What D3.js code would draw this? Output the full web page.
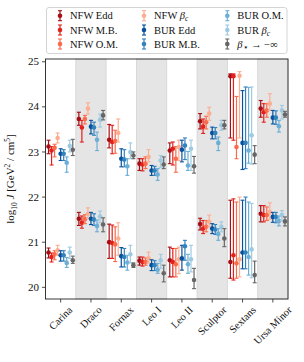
<!DOCTYPE html>
<html><head><meta charset="utf-8">
<script src="https://cdn.jsdelivr.net/npm/d3@7"></script>
<style>body{margin:0;background:#fff}svg{display:block}text{font-family:"Liberation Serif","Times New Roman",serif}</style>
</head><body><svg id="c" width="304" height="362"></svg>
<script>
const categories = ["Carina","Draco","Fornax","Leo I","Leo II","Sculptor","Sextans","Ursa Minor"];
const shaded = ["Draco","Leo I","Sculptor","Ursa Minor"];
const yTicks = [20,21,22,23,24,25];
const seriesNames = ["NFW Edd","NFW M.B.","NFW O.M.","NFW βc","BUR Edd","BUR M.B.","BUR O.M.","BUR βc","β⋆ → −∞"];
const seriesColors = ["#a50f15","#e3211c","#fb6a4a","#fcae91","#08519c","#3182bd","#6baed6","#9ecae1","#666666"];
// [value, low, high] per category — upper set
const nfwEddUp = [[23.11,22.95,23.25],[23.72,23.58,23.87],[23.26,23.08,23.60],[22.73,22.58,22.84],[23.02,22.73,23.19],[23.67,23.50,23.84],[24.67,23.30,24.72],[23.95,23.76,24.13]];
const nfwMBUp  = [[23.02,22.70,23.11],[23.53,23.21,23.69],[23.21,22.95,23.58],[22.71,22.57,22.84],[23.06,22.70,23.21],[23.55,23.40,23.72],[24.67,23.25,24.72],[23.87,23.65,24.06]];
const nfwOMUp  = [[23.08,22.88,23.16],[23.72,23.61,23.80],[23.23,22.96,23.47],[22.73,22.62,22.88],[22.84,22.54,23.11],[23.65,23.50,23.78],[23.10,22.84,24.22],[23.91,23.76,24.06]];
const nfwBcUp  = [[23.30,23.19,23.41],[23.95,23.83,24.08],[23.41,23.21,23.72],[22.88,22.77,23.04],[23.10,22.80,23.25],[23.84,23.69,23.98],[24.68,23.30,24.77],[24.06,23.91,24.28]];
const burEddUp = [[22.95,22.80,23.06],[23.55,23.39,23.69],[22.84,22.66,23.06],[22.58,22.47,22.69],[23.04,22.77,23.25],[23.41,23.28,23.54],[23.19,22.60,24.35],[23.75,23.61,23.91]];
const burMBUp  = [[22.95,22.80,23.04],[23.53,23.36,23.65],[22.82,22.66,23.04],[22.58,22.47,22.67],[23.13,22.82,23.30],[23.41,23.28,23.53],[23.19,22.62,24.43],[23.75,23.60,23.90]];
const burOMUp  = [[22.75,22.54,22.88],[23.26,23.02,23.43],[22.67,22.47,22.84],[22.49,22.36,22.62],[22.69,22.58,23.00],[23.19,23.02,23.32],[23.02,22.74,24.42],[23.56,23.43,23.69]];
const burBcUp  = [[23.12,22.99,23.25],[23.70,23.54,23.83],[22.99,22.84,23.19],[22.80,22.65,22.91],[23.06,22.58,23.25],[23.58,23.47,23.69],[23.36,22.72,24.43],[23.91,23.72,24.02]];
const grayUp   = [[23.04,22.91,23.27],[23.80,23.70,23.91],[22.91,22.84,22.99],[22.71,22.62,22.88],[22.67,22.52,22.89],[23.58,23.50,23.69],[22.93,22.73,23.13],[23.82,23.76,23.89]];
// lower set
const nfwEddLo = [[20.76,20.64,20.86],[21.51,21.36,21.65],[20.99,20.63,21.39],[20.58,20.48,20.66],[20.59,20.22,20.88],[21.39,21.26,21.52],[20.55,20.19,21.92],[21.62,21.44,21.80]];
const nfwMBLo  = [[20.66,20.55,20.75],[21.42,21.30,21.57],[20.97,20.63,21.37],[20.55,20.46,20.66],[20.55,20.22,20.85],[21.29,21.18,21.47],[20.70,20.15,21.95],[21.59,21.44,21.80]];
const nfwOMLo  = [[20.72,20.60,20.80],[21.50,21.40,21.60],[20.94,20.56,21.33],[20.55,20.48,20.64],[20.50,20.22,20.85],[21.33,21.22,21.47],[20.52,20.19,21.88],[21.59,21.47,21.77]];
const nfwBcLo  = [[20.81,20.70,20.92],[21.62,21.51,21.75],[21.07,20.70,21.42],[20.63,20.53,20.77],[20.61,20.29,20.88],[21.44,21.33,21.59],[20.61,20.22,21.99],[21.66,21.50,21.86]];
const burEddLo = [[20.70,20.57,20.80],[21.51,21.38,21.65],[20.68,20.44,20.87],[20.48,20.36,20.60],[20.63,20.37,20.92],[21.29,21.18,21.40],[20.76,20.40,21.92],[21.55,21.43,21.65]];
const burMBLo  = [[20.70,20.57,20.80],[21.49,21.36,21.62],[20.66,20.44,20.85],[20.48,20.36,20.58],[20.90,20.59,21.03],[21.27,21.16,21.38],[20.76,20.40,21.99],[21.55,21.42,21.65]];
const burOMLo  = [[20.53,20.43,20.65],[21.35,21.22,21.48],[20.54,20.37,20.70],[20.38,20.30,20.52],[20.50,20.30,20.72],[21.17,21.03,21.29],[20.66,20.26,21.88],[21.46,21.35,21.57]];
const burBcLo  = [[20.76,20.63,20.88],[21.56,21.42,21.68],[20.72,20.53,20.92],[20.59,20.41,20.72],[20.61,20.33,20.92],[21.33,21.22,21.44],[20.83,20.20,21.85],[21.59,21.47,21.69]];
const grayLo   = [[20.59,20.52,20.68],[21.38,21.22,21.53],[20.48,20.43,20.53],[20.30,20.11,20.48],[20.15,19.96,20.41],[21.07,20.89,21.29],[20.26,20.09,20.57],[21.45,21.35,21.55]];

const upperSets = [nfwEddUp,nfwMBUp,nfwOMUp,nfwBcUp,burEddUp,burMBUp,burOMUp,burBcUp,grayUp];
const lowerSets = [nfwEddLo,nfwMBLo,nfwOMLo,nfwBcLo,burEddLo,burMBLo,burOMLo,burBcLo,grayLo];

const FONT = "Liberation Serif";
const svg = d3.select("#c");
const L = 45.5, R = 288, T = 59, B = 299;
const x = d3.scaleBand().domain(categories).range([L,R]).padding(0);
const y = d3.scaleLinear().domain([19.73,25.05]).range([B,T]);
const off = d3.scaleLinear().domain([0,8]).range([-0.4,0.4]);

// shaded bands
svg.append("g").selectAll("rect").data(shaded).join("rect")
  .attr("x", d=>x(d)).attr("y", T).attr("width", x.bandwidth()).attr("height", B-T)
  .attr("fill","#e5e5e5").attr("stroke","#d4d4d4").attr("stroke-width",0.8);

// series
const plot = svg.append("g");
[upperSets, lowerSets].forEach(sets=>{
  sets.forEach((arr,si)=>{
    const g = plot.append("g").attr("stroke", seriesColors[si]).attr("fill", seriesColors[si]);
    arr.forEach((d,ci)=>{
      const cx = x(categories[ci]) + x.bandwidth()/2 + off(si)*x.bandwidth();
      g.append("line").attr("x1",cx).attr("x2",cx).attr("y1",y(d[1])).attr("y2",y(d[2])).attr("stroke-width",1.2);
      g.append("line").attr("x1",cx-2).attr("x2",cx+2).attr("y1",y(d[1])).attr("y2",y(d[1])).attr("stroke-width",1.1);
      g.append("line").attr("x1",cx-2).attr("x2",cx+2).attr("y1",y(d[2])).attr("y2",y(d[2])).attr("stroke-width",1.1);
      g.append("circle").attr("cx",cx).attr("cy",y(d[0])).attr("r",2.3).attr("stroke","none");
    });
  });
});

// axes
const yAxis = svg.append("g").attr("transform",`translate(${L},0)`)
  .call(d3.axisLeft(y).tickValues(yTicks).tickFormat(d3.format("d")).tickSize(3.5).tickPadding(3));
const xAxis = svg.append("g").attr("transform",`translate(0,${B})`)
  .call(d3.axisBottom(x).tickSize(3.5).tickFormat(""));
[yAxis,xAxis].forEach(a=>{a.attr("font-family",FONT); a.select(".domain").remove(); a.selectAll("line").attr("stroke","#222").attr("stroke-width",0.8);});
yAxis.selectAll("text").attr("font-size",11).attr("fill","#111");
svg.append("rect").attr("x",L).attr("y",T).attr("width",R-L).attr("height",B-T)
  .attr("fill","none").attr("stroke","#222").attr("stroke-width",0.9);

// rotated x labels, centered bbox on tick
const xl = svg.append("g");
categories.forEach(c=>{
  const t = xl.append("text").attr("font-size",10.5).attr("fill","#111")
    .attr("text-anchor","middle").attr("dominant-baseline","central").text(c);
  const w = t.node().getComputedTextLength();
  const h = 7.5;
  const bh = (w + h) * Math.SQRT1_2;
  const cx = x(c) + x.bandwidth()/2, cy = B + 6.5 + bh/2;
  t.attr("transform",`translate(${cx},${cy}) rotate(-45)`);
});

// y label
const yl = svg.append("text").attr("transform",`translate(14,${(T+B)/2}) rotate(-90)`)
  .attr("text-anchor","middle").attr("font-size",11).attr("fill","#111");
yl.append("tspan").text("log");
yl.append("tspan").attr("font-size",7.5).attr("dy",2.5).text("10");
yl.append("tspan").attr("dy",-2.5).text(" ");
yl.append("tspan").attr("font-style","italic").text("J");
yl.append("tspan").text(" [GeV");
yl.append("tspan").attr("font-size",7.5).attr("dy",-4).text("2");
yl.append("tspan").attr("dy",4).text(" / cm");
yl.append("tspan").attr("font-size",7.5).attr("dy",-4).text("5");
yl.append("tspan").attr("dy",4).text("]");

// legend
const lg = svg.append("g");
lg.append("rect").attr("x",46.5).attr("y",7.5).attr("width",240.5).attr("height",46).attr("rx",2.5)
  .attr("fill","#fff").attr("stroke","#cfcfcf").attr("stroke-width",0.9);
const colX = [60,144,227.3], rowY = [15.7,30,44];
seriesNames.forEach((n,i)=>{
  const cx = colX[Math.floor(i/3)], cy = rowY[i%3];
  const g = lg.append("g").attr("stroke",seriesColors[i]).attr("fill",seriesColors[i]);
  g.append("line").attr("x1",cx).attr("x2",cx).attr("y1",cy-5).attr("y2",cy+5).attr("stroke-width",1.2);
  g.append("line").attr("x1",cx-2).attr("x2",cx+2).attr("y1",cy-5).attr("y2",cy-5).attr("stroke-width",1.1);
  g.append("line").attr("x1",cx-2).attr("x2",cx+2).attr("y1",cy+5).attr("y2",cy+5).attr("stroke-width",1.1);
  g.append("circle").attr("cx",cx).attr("cy",cy).attr("r",2.3).attr("stroke","none");
  const t = lg.append("text").attr("x",cx+10).attr("y",cy+3.5).attr("font-size",10.5).attr("fill","#111");
  if (n === "NFW βc" || n === "BUR βc") {
    t.append("tspan").text(n.slice(0,4));
    t.append("tspan").attr("font-style","italic").text("β");
    t.append("tspan").attr("font-size",7.5).attr("font-style","italic").attr("dy",2).text("c");
  } else if (n.startsWith("β")) {
    t.append("tspan").attr("font-style","italic").text("β");
    t.append("tspan").attr("font-size",9).attr("dy",2.5).text("⋆");
    t.append("tspan").attr("dy",-2.5).text(" → −∞");
  } else {
    t.text(n);
  }
});
</script></body></html>
